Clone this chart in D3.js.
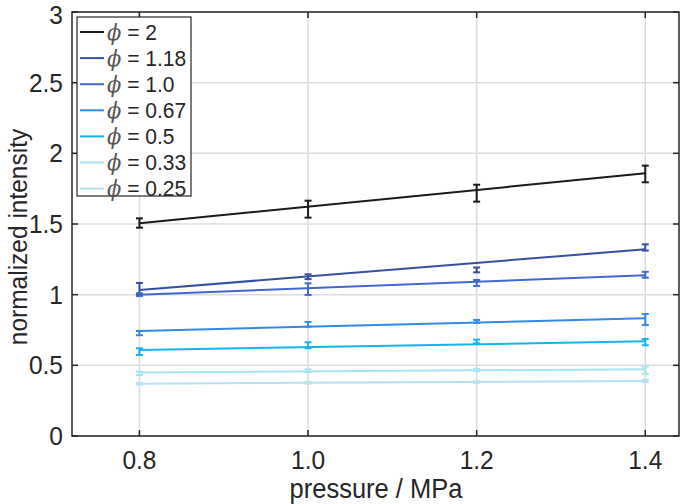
<!DOCTYPE html>
<html>
<head>
<meta charset="utf-8">
<script src="https://cdn.jsdelivr.net/npm/d3@7"></script>
<style>
  html, body { margin: 0; padding: 0; background: #fff; }
  svg { display: block; }
  text { font-family: "Liberation Sans", Arial, Helvetica, sans-serif; fill: #262626; }
</style>
</head>
<body>
<svg id="chart" width="685" height="504"></svg>
<script>
// ---------- data ----------
const pressures = [0.8, 1.0, 1.2, 1.4];
const xTicks = [0.8, 1.0, 1.2, 1.4];
const xTickLabels = ["0.8", "1.0", "1.2", "1.4"];
const yTicks = [0, 0.5, 1, 1.5, 2, 2.5, 3];
const yTickLabels = ["0", "0.5", "1", "1.5", "2", "2.5", "3"];
const phiLabels = ["2", "1.18", "1.0", "0.67", "0.5", "0.33", "0.25"];
const seriesColors = ["#1a1a1a", "#34509e", "#3f68d0", "#2f8ae8", "#14b4ee", "#a4e6f0", "#b4e2f0"];

// measured means (per phi) at each pressure
const mean_phi2    = [1.507, 1.605, 1.718, 1.854];
const mean_phi118  = [1.040, 1.127, 1.175, 1.334];
const mean_phi10   = [1.000, 1.039, 1.083, 1.141];
const mean_phi067  = [0.728, 0.790, 0.811, 0.824];
const mean_phi05   = [0.597, 0.642, 0.669, 0.664];
const mean_phi033  = [0.443, 0.462, 0.467, 0.465];
const mean_phi025  = [0.370, 0.377, 0.382, 0.389];

// error bar half-widths
const err_phi2    = [0.033, 0.060, 0.060, 0.059];
const err_phi118  = [0.043, 0.017, 0.017, 0.022];
const err_phi10   = [0.010, 0.041, 0.021, 0.021];
const err_phi067  = [0.015, 0.017, 0.010, 0.039];
const err_phi05   = [0.024, 0.021, 0.013, 0.022];
const err_phi033  = [0.012, 0.010, 0.008, 0.026];
const err_phi025  = [0.006, 0.006, 0.006, 0.008];

// linear-fit line values at p = 0.8 and p = 1.4
const fitPressures = [0.8, 1.4];
const fitStart = [1.505, 1.033, 1.000, 0.743, 0.608, 0.450, 0.370];
const fitEnd   = [1.859, 1.321, 1.137, 0.833, 0.670, 0.472, 0.389];

const means = [mean_phi2, mean_phi118, mean_phi10, mean_phi067, mean_phi05, mean_phi033, mean_phi025];
const errs  = [err_phi2, err_phi118, err_phi10, err_phi067, err_phi05, err_phi033, err_phi025];

// ---------- layout ----------
const svg = d3.select("#chart");
const L = 72, R = 679, T = 12, B = 436;
const x = d3.scaleLinear().domain([0.72, 1.44]).range([L, R]);
const y = d3.scaleLinear().domain([0, 3]).range([B, T]);
const axisColor = "#262626";
const SY = 1.06; // glyphs in the reference are slightly taller than wide

svg.append("rect").attr("width", 685).attr("height", 504).attr("fill", "#fff");

// grid
const grid = svg.append("g");
grid.selectAll("line.gx").data(xTicks).enter().append("line")
  .attr("x1", d => x(d)).attr("x2", d => x(d)).attr("y1", T).attr("y2", B)
  .attr("stroke", "#dcdcdc").attr("stroke-width", 1.5);
grid.selectAll("line.gy").data(yTicks).enter().append("line")
  .attr("y1", d => y(d)).attr("y2", d => y(d)).attr("x1", L).attr("x2", R)
  .attr("stroke", "#dcdcdc").attr("stroke-width", 1.5);

// series
const plot = svg.append("g");
phiLabels.forEach((lab, i) => {
  const c = seriesColors[i];
  const fit = [[fitPressures[0], fitStart[i]], [fitPressures[1], fitEnd[i]]];
  plot.append("path")
    .attr("d", d3.line().x(d => x(d[0])).y(d => y(d[1]))(fit))
    .attr("fill", "none").attr("stroke", c).attr("stroke-width", 2);
  const g = plot.append("g").attr("stroke", c).attr("stroke-width", 2);
  pressures.forEach((p, j) => {
    const m = means[i][j], e = errs[i][j];
    const px = x(p), y1 = y(m - e), y2 = y(m + e);
    g.append("line").attr("x1", px).attr("x2", px).attr("y1", y1).attr("y2", y2);
    g.append("line").attr("x1", px - 3.5).attr("x2", px + 3.5).attr("y1", y1).attr("y2", y1);
    g.append("line").attr("x1", px - 3.5).attr("x2", px + 3.5).attr("y1", y2).attr("y2", y2);
  });
});

// axes box + ticks (inward, all four sides)
const ax = svg.append("g").attr("stroke", axisColor).attr("stroke-width", 1.5);
ax.append("rect").attr("x", L).attr("y", T).attr("width", R - L).attr("height", B - T).attr("fill", "none");
xTicks.forEach(t => {
  ax.append("line").attr("x1", x(t)).attr("x2", x(t)).attr("y1", B).attr("y2", B - 6);
  ax.append("line").attr("x1", x(t)).attr("x2", x(t)).attr("y1", T).attr("y2", T + 6);
});
yTicks.forEach(t => {
  ax.append("line").attr("y1", y(t)).attr("y2", y(t)).attr("x1", L).attr("x2", L + 6);
  ax.append("line").attr("y1", y(t)).attr("y2", y(t)).attr("x1", R).attr("x2", R - 6);
});

// tick labels
svg.append("g").selectAll("text").data(xTicks).enter().append("text")
  .attr("transform", d => `translate(${x(d)},468.5) scale(1,${SY})`).attr("text-anchor", "middle")
  .attr("font-size", 24.5).text((d, i) => xTickLabels[i]);
svg.append("g").selectAll("text").data(yTicks).enter().append("text")
  .attr("transform", d => `translate(63,${Math.max(y(d) + 9, 23.5)}) scale(1,${SY})`).attr("text-anchor", "end")
  .attr("font-size", 24.5).text((d, i) => yTickLabels[i]);

// axis titles
svg.append("text").attr("transform", `translate(376,498) scale(1,${SY})`).attr("text-anchor", "middle")
  .attr("font-size", 25.5).text("pressure / MPa");
svg.append("text").attr("transform", `translate(27,237) rotate(-90) scale(1,${SY})`)
  .attr("text-anchor", "middle").attr("font-size", 24.5).text("normalized intensity");

// legend
const lg = svg.append("g");
lg.append("rect").attr("x", 77).attr("y", 17).attr("width", 114).attr("height", 179)
  .attr("fill", "#fff").attr("stroke", axisColor).attr("stroke-width", 1.2);
phiLabels.forEach((lab, i) => {
  const ry = 32 + i * 26.1;
  lg.append("line").attr("x1", 80).attr("x2", 104).attr("y1", ry).attr("y2", ry)
    .attr("stroke", seriesColors[i]).attr("stroke-width", 2);
  const t = lg.append("text").attr("transform", `translate(107,${ry + 7.5}) scale(1,1.05)`).attr("font-size", 21);
  t.append("tspan").attr("font-family", "'DejaVu Serif', 'Liberation Serif', serif")
    .attr("font-style", "italic").attr("fill", "#555").text("\u03D5");
  t.append("tspan").text(" = " + lab);
});
</script>
</body>
</html>
